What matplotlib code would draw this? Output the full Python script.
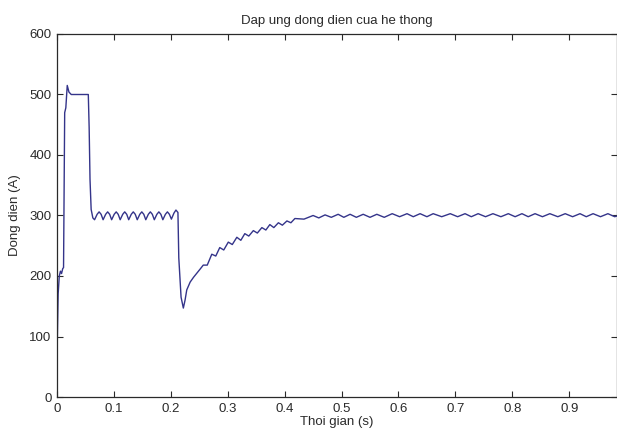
import matplotlib
matplotlib.use("Agg")
import matplotlib.pyplot as plt

plt.rcParams['font.family'] = ['Liberation Sans', 'DejaVu Sans']

title = "Dap ung dong dien cua he thong"
xlabel = "Thoi gian (s)"
ylabel = "Dong dien (A)"

x_ticks = [0, 0.1, 0.2, 0.3, 0.4, 0.5, 0.6, 0.7, 0.8, 0.9]
x_tick_labels = ["0", "0.1", "0.2", "0.3", "0.4", "0.5", "0.6", "0.7", "0.8", "0.9"]
y_ticks = [0, 100, 200, 300, 400, 500, 600]

# start-up phase
t_start = [0.000, 0.002, 0.004, 0.006, 0.008, 0.010, 0.0115, 0.0135, 0.0155, 0.018, 0.021, 0.025,
           0.055, 0.0565, 0.058, 0.060, 0.063]
i_start = [65, 170, 200, 208, 204, 212, 214, 470, 478, 515, 504, 500,
           500, 445, 360, 310, 296]

# ripple around 300 A before the disturbance (trough, rise, peak, fall per cycle)
t_ripple1 = [0.066, 0.0705, 0.074, 0.0775,
             0.081, 0.0855, 0.089, 0.0925,
             0.096, 0.1005, 0.104, 0.1075,
             0.111, 0.1155, 0.119, 0.1225,
             0.126, 0.1305, 0.134, 0.1375,
             0.141, 0.1455, 0.149, 0.1525,
             0.156, 0.1605, 0.164, 0.1675,
             0.171, 0.1755, 0.179, 0.1825,
             0.186, 0.1905, 0.194, 0.1975,
             0.201, 0.2055, 0.209]
i_ripple1 = [293, 302, 306, 302,
             293, 302, 306, 302,
             293, 302, 306, 302,
             293, 302, 306, 302,
             293, 302, 306, 302,
             293, 302, 306, 302,
             293, 302, 306, 302,
             293, 302, 306, 302,
             293, 302, 306, 302,
             294, 304, 309]

# disturbance and recovery
t_drop = [0.2125, 0.214, 0.218, 0.222, 0.225, 0.228, 0.234, 0.240, 0.247, 0.252]
i_drop = [305, 230, 165, 147, 160, 177, 190, 198, 206, 212]

t_recov = [0.257, 0.264, 0.272, 0.279, 0.286, 0.293, 0.301, 0.308, 0.316, 0.323, 0.330, 0.337,
           0.345, 0.352, 0.360, 0.367, 0.374, 0.381, 0.389, 0.396, 0.404, 0.411, 0.418]
i_recov = [218, 218, 236, 233, 247, 243, 256, 252, 264, 259, 270, 266,
           275, 271, 280, 276, 285, 280, 288, 284, 291, 288, 295]

# steady state with small ripple
t_steady = [0.434, 0.450, 0.460, 0.471, 0.482, 0.494, 0.504, 0.515, 0.526, 0.538, 0.550, 0.562,
            0.575, 0.589, 0.602, 0.615, 0.626, 0.638, 0.650, 0.661, 0.676, 0.691, 0.704, 0.717,
            0.728, 0.740, 0.753, 0.766, 0.780, 0.793, 0.805, 0.817, 0.828, 0.840, 0.853, 0.866,
            0.880, 0.893, 0.906, 0.919, 0.930, 0.942, 0.955, 0.968, 0.980, 0.990]
i_steady = [294, 300, 296, 301, 297, 302, 297, 302, 297, 302, 297, 302,
            297, 303, 298, 303, 298, 303, 298, 303, 298, 303, 298, 303,
            298, 303, 298, 303, 298, 303, 298, 303, 298, 303, 298, 303,
            298, 303, 298, 303, 298, 303, 298, 303, 298, 301]

t = t_start + t_ripple1 + t_drop + t_recov + t_steady
current = i_start + i_ripple1 + i_drop + i_recov + i_steady

fig = plt.figure(figsize=(6.17, 4.34), dpi=100)
ax = fig.add_axes([57 / 617, 1 - 397 / 434, (617 - 57) / 617, (397 - 34) / 434])
ax.plot(t, current, color='#34348a', linewidth=1.0)

ax.set_xlim(0, 0.984)
ax.set_ylim(0, 600)
ax.set_xticks(x_ticks)
ax.set_xticklabels(x_tick_labels)
ax.set_yticks(y_ticks)
ax.tick_params(direction='in', length=4, width=0.8, top=True, right=True,
               labelsize=9.5, colors='#2a2a2a', pad=4)
for s in ax.spines.values():
    s.set_color('#2a2a2a')
    s.set_linewidth(0.9)

ax.set_title(title, fontsize=9.5, color='#2a2a2a', pad=7)
ax.set_xlabel(xlabel, fontsize=9.5, color='#2a2a2a', labelpad=1)
ax.set_ylabel(ylabel, fontsize=9.5, color='#2a2a2a', labelpad=6)

fig.savefig("out.png", dpi=100)
